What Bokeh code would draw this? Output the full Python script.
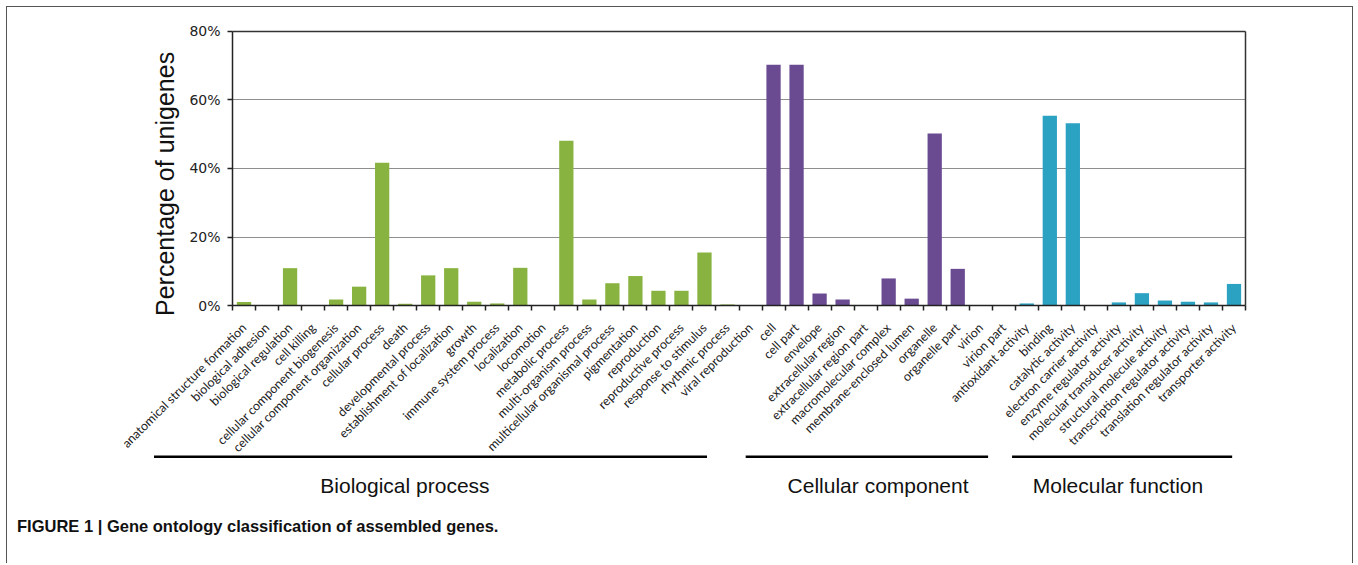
import math
from bokeh.plotting import figure
from bokeh.models import (Range1d, LinearAxis, FixedTicker, ColumnDataSource,
                          Label, Arrow)
from bokeh.embed import file_html
from bokeh.resources import INLINE

# ---------------- data ----------------
bp_terms = ["anatomical structure formation", "biological adhesion", "biological regulation",
            "cell killing", "cellular component biogenesis", "cellular component organization",
            "cellular process", "death", "developmental process",
            "establishment of localization", "growth", "immune system process", "localization",
            "locomotion", "metabolic process", "multi-organism process",
            "multicellular organismal process", "pigmentation", "reproduction",
            "reproductive process", "response to stimulus", "rhythmic process",
            "viral reproduction"]
bp_values = [1.0, 0.0, 10.9, 0.0, 1.75, 5.5, 41.7, 0.5, 8.8, 10.9, 1.1, 0.6, 11.0, 0.0,
             48.1, 1.75, 6.5, 8.6, 4.3, 4.3, 15.5, 0.3, 0.0]

cc_terms = ["cell", "cell part", "envelope", "extracellular region", "extracellular region part",
            "macromolecular complex", "membrane-enclosed lumen", "organelle", "organelle part",
            "virion", "virion part"]
cc_values = [70.3, 70.3, 3.5, 1.75, 0.0, 7.9, 2.0, 50.2, 10.7, 0.0, 0.0]

mf_terms = ["antioxidant activity", "binding", "catalytic activity", "electron carrier activity",
            "enzyme regulator activity", "molecular transducer activity",
            "structural molecule activity", "transcription regulator activity",
            "translation regulator activity", "transporter activity"]
mf_values = [0.6, 55.4, 53.2, 0.0, 0.9, 3.6, 1.45, 1.1, 0.9, 6.3]

group_names = ["Biological process", "Cellular component", "Molecular function"]
group_colors = ["#88b340", "#6a4b92", "#2ca2c2"]

y_ticks = [0, 20, 40, 60, 80]
y_tick_labels = ["0%", "20%", "40%", "60%", "80%"]

y_title = "Percentage of unigenes"
caption = "FIGURE 1 | Gene ontology classification of assembled genes."

# ---------------- derived table ----------------
groups_terms = [bp_terms, cc_terms, mf_terms]
groups_values = [bp_values, cc_values, mf_values]
terms, values, colors = [], [], []
for gt, gv, gc in zip(groups_terms, groups_values, group_colors):
    terms += gt
    values += gv
    colors += [gc] * len(gt)
idx = list(range(len(terms)))
src = ColumnDataSource(dict(x=idx, top=values, color=colors, term=terms))

x_lo, x_hi = -0.5, len(terms) - 0.5
y_lo, y_hi = y_ticks[0], y_ticks[-1]

# ---------------- figure (frame covers whole canvas; axes at fixed locations) ----------------
p = figure(width=1347, height=557,
           x_range=Range1d(-10.273, 48.234), y_range=Range1d(-75.62, 87.007),
           x_axis_type=None, y_axis_type=None,
           output_backend="svg", toolbar_location=None,
           min_border_left=0, min_border_right=0, min_border_top=0, min_border_bottom=0)
p.styles = {"margin-left": "6px", "margin-top": "6px",
            "border-top": "1.5px solid #555555",
            "border-left": "1.5px solid #555555",
            "border-right": "1.5px solid #555555"}
p.outline_line_color = None
p.background_fill_color = "white"
p.border_fill_color = "white"

# horizontal grid lines, limited to the plotting area, drawn beneath the bars
for gy in y_ticks[1:-1]:
    p.add_layout(LinearAxis(fixed_location=gy, bounds=(x_lo, x_hi), ticker=FixedTicker(ticks=[]),
                            major_tick_out=0, minor_tick_out=0,
                            major_label_text_font_size="0px",
                            axis_line_color="#8f8f8f", axis_line_width=1.2,
                            level="underlay"), "above")

p.vbar(x="x", top="top", bottom=0, width=0.62, source=src,
       fill_color="color", line_color=None)

# y axis
yaxis = LinearAxis(fixed_location=x_lo, bounds=(y_lo, y_hi),
                   ticker=FixedTicker(ticks=y_ticks),
                   major_label_overrides=dict(zip(y_ticks, y_tick_labels)),
                   major_tick_out=5, major_tick_in=0, minor_tick_out=0, minor_tick_in=0,
                   axis_line_color="#222222", axis_line_width=1.5,
                   major_tick_line_color="#222222", major_tick_line_width=1.5,
                   major_label_text_font="DejaVu Sans", major_label_text_font_size="14px",
                   major_label_text_color="#222222", major_label_standoff=7)
p.add_layout(yaxis, "left")

# x axis: labels at category centres, tick marks at category boundaries
xaxis = LinearAxis(fixed_location=y_lo, bounds=(x_lo, x_hi),
                   ticker=FixedTicker(ticks=idx,
                                      minor_ticks=[i - 0.5 for i in range(len(terms) + 1)]),
                   major_label_overrides={i: t for i, t in enumerate(terms)},
                   major_label_orientation=math.pi / 4,
                   major_tick_out=0, major_tick_in=0,
                   minor_tick_out=5, minor_tick_in=0,
                   minor_tick_line_color="#222222", minor_tick_line_width=1.5,
                   axis_line_color="#222222", axis_line_width=1.5,
                   major_label_text_font="Lato", major_label_text_font_size="12.5px",
                   major_label_text_color="#222222", major_label_standoff=15)
p.add_layout(xaxis, "below")

# top and right frame lines
top_line = LinearAxis(fixed_location=y_hi, bounds=(x_lo, x_hi), ticker=FixedTicker(ticks=[]),
                      major_tick_out=0, minor_tick_out=0, major_label_text_font_size="0px",
                      axis_line_color="#333333", axis_line_width=1.5)
p.add_layout(top_line, "above")
right_line = LinearAxis(fixed_location=x_hi, bounds=(y_lo, y_hi), ticker=FixedTicker(ticks=[]),
                        major_tick_out=0, minor_tick_out=0, major_label_text_font_size="0px",
                        axis_line_color="#333333", axis_line_width=1.5)
p.add_layout(right_line, "right")

# y title
p.add_layout(Label(x=-3.43, y=35.5, text=y_title, angle=math.pi / 2,
                   text_align="center", text_baseline="alphabetic",
                   text_font="Liberation Sans", text_font_size="25px",
                   text_color="#111111"))

# group brackets and names
group_line_spans = [(-3.91, 20.11), (21.79, 32.32), (33.36, 42.92)]
group_label_x = [6.99, 27.54, 37.96]
for (x0, x1), name, lx in zip(group_line_spans, group_names, group_label_x):
    p.add_layout(Arrow(end=None, start=None, x_start=x0, y_start=-44.15, x_end=x1, y_end=-44.15,
                       line_color="black", line_width=2.5))
    p.add_layout(Label(x=lx, y=-52.7, text=name, text_align="center",
                       text_baseline="alphabetic", text_font="Liberation Sans",
                       text_font_size="21px", text_color="#111111"))

p.add_layout(Label(x=-9.86, y=-64.4, text=caption, text_align="left",
                   text_baseline="alphabetic", text_font="Liberation Sans",
                   text_font_style="bold", text_font_size="16.5px", text_color="#111111"))

open("out.html", "w").write(file_html(p, INLINE))
